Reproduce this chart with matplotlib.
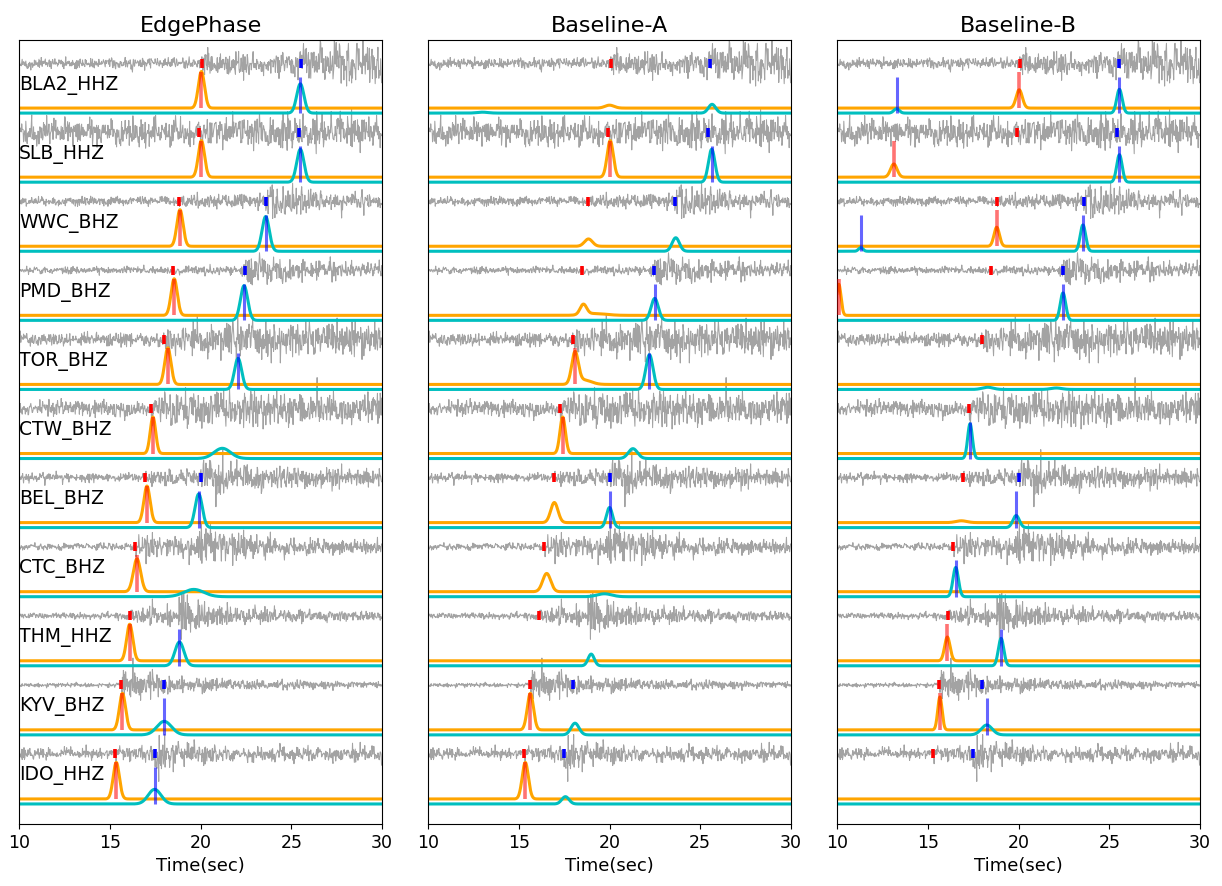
import numpy as np
import matplotlib
matplotlib.use("Agg")
import matplotlib.pyplot as plt

# ---------------- data ----------------
stations = ["BLA2_HHZ", "SLB_HHZ", "WWC_BHZ", "PMD_BHZ", "TOR_BHZ", "CTW_BHZ",
            "BEL_BHZ", "CTC_BHZ", "THM_HHZ", "KYV_BHZ", "IDO_HHZ"]
methods = ["EdgePhase", "Baseline-A", "Baseline-B"]
xticks = [10, 15, 20, 25, 30]

# manual (catalog) picks, seconds
manual_p = [20.06, 19.90, 18.84, 18.47, 18.01, 17.29, 16.93, 16.41, 16.10, 15.64, 15.30]
manual_s = [25.52, 25.43, 23.59, 22.45, None, None, 20.00, None, None, 18.00, 17.47]

# waveform envelope (half amplitude, pixels): pre-P noise, after-P, after-S peak, late floor
wave_noise = [5, 12, 4, 3, 6, 7, 4, 3, 3, 2, 5]
wave_p_amp = [11, 13, 6, 4, 14, 18, 7, 10, 8, 20, 7]
wave_s_time = [25.5, 25.4, 23.6, 22.5, 21.5, 20.5, 20.0, 19.9, 18.8, 15.7, 17.5]
wave_s_amp = [18, 14, 18, 20, 16, 15, 20, 22, 20, 20, 22]
wave_floor = [17, 13, 6, 7, 12, 12, 7, 5, 4, 3, 6]
wave_decay = [30, 30, 2.5, 1.5, 20, 10, 3.0, 3.0, 3.0, 3.0, 1.5]

# probability peaks per method / station: (time, height, width)
p_peaks = [
    [[(20.05, 1.0, 0.17)], [(20.05, 1.0, 0.17)], [(18.87, 1.0, 0.17)], [(18.55, 1.0, 0.17)],
     [(18.20, 1.0, 0.17)], [(17.38, 1.0, 0.15)], [(17.05, 1.0, 0.17)], [(16.50, 0.9, 0.20)],
     [(16.10, 1.0, 0.17)], [(15.70, 1.0, 0.17)], [(15.36, 1.0, 0.17)]],
    [[(20.00, 0.08, 0.25)], [(20.04, 1.0, 0.17)], [(18.84, 0.2, 0.22)],
     [(18.56, 0.28, 0.18), (19.2, 0.05, 0.6)], [(18.10, 0.85, 0.18), (18.6, 0.12, 0.4)],
     [(17.42, 1.0, 0.15)], [(16.96, 0.55, 0.2)], [(16.54, 0.5, 0.22)], [],
     [(15.64, 1.0, 0.17)], [(15.36, 1.0, 0.17)]],
    [[(20.04, 0.5, 0.17)], [(13.13, 0.36, 0.18)], [(18.80, 0.52, 0.15)], [(10.10, 0.85, 0.12)],
     [], [], [(16.85, 0.05, 0.3)], [], [(16.08, 0.65, 0.15)], [(15.67, 0.9, 0.12)], []],
]
s_peaks = [
    [[(25.50, 0.8, 0.2)], [(25.50, 0.9, 0.2)], [(23.59, 0.95, 0.2)], [(22.40, 0.95, 0.2)],
     [(22.07, 0.85, 0.2)], [(21.20, 0.28, 0.45)], [(19.90, 0.92, 0.2)], [(19.63, 0.2, 0.55)],
     [(18.84, 0.65, 0.25)], [(18.00, 0.37, 0.4)], [(17.47, 0.4, 0.35)]],
    [[(25.65, 0.24, 0.2), (13.0, 0.025, 0.3)], [(25.63, 0.9, 0.18)], [(23.65, 0.37, 0.2)],
     [(22.49, 0.6, 0.2)], [(22.20, 0.95, 0.2)], [(21.29, 0.27, 0.25)], [(20.00, 0.55, 0.17)],
     [(19.72, 0.08, 0.4)], [(18.99, 0.32, 0.17)], [(18.10, 0.32, 0.22)], [(17.57, 0.2, 0.2)]],
    [[(13.28, 0.12, 0.15), (25.56, 0.65, 0.15)], [(25.56, 0.75, 0.15)],
     [(11.31, 0.1, 0.12), (23.55, 0.72, 0.15)], [(22.45, 0.75, 0.15)],
     [(18.3, 0.06, 0.3), (22.08, 0.04, 0.3)], [(17.33, 0.95, 0.13)], [(19.87, 0.33, 0.18)],
     [(16.54, 0.8, 0.15)], [(19.04, 0.75, 0.15)], [(18.25, 0.27, 0.3)], []],
]
# predicted picks (vertical lines)
pred_p = [
    [20.05, 20.05, 18.87, 18.55, 18.20, 17.38, 17.05, 16.50, 16.10, 15.70, 15.36],
    [None, 20.04, None, None, 18.10, 17.42, None, None, None, 15.64, 15.36],
    [20.04, 13.13, 18.80, 10.10, None, None, None, None, 16.08, 15.67, None],
]
pred_s = [
    [[25.5], [25.5], [23.59], [22.4], [22.07], [], [19.9], [], [18.84], [18.0], [17.47]],
    [[], [25.63], [], [22.52], [22.2], [], [20.0], [], [], [], []],
    [[13.28, 25.56], [25.56], [11.31, 23.55], [22.45], [], [17.33], [19.87], [16.54],
     [19.04], [18.25], []],
]

# ---------------- layout / style ----------------
PX = 69.0                  # pixels per station band
WAVE_OFF = 45 / PX         # waveform centre above orange baseline
CYAN_OFF = -5 / PX
PSCALE = 36.5 / PX
MARK_H = 4.5 / PX

fig = plt.figure(figsize=(12.22, 8.86), dpi=100)
lefts = [19, 428, 837]
axw = 363
bottom_px, top_px = 824, 40
W, H = 1222, 886

t = np.arange(10.0, 30.0001, 0.01)
fs_wave = 40.0
tw = np.arange(10.0, 30.0, 1.0 / fs_wave)

# waveform texture (unreadable detail): seeded noise shaped by the envelopes read above
rng = np.random.default_rng(7)
textures = [rng.standard_normal(tw.size) for _ in stations]


def envelope(k):
    env = np.full(tw.shape, float(wave_noise[k]))
    pm = tw >= manual_p[k]
    env[pm] = wave_p_amp[k]
    sm = tw >= wave_s_time[k]
    dt = tw[sm] - wave_s_time[k]
    env[sm] = wave_floor[k] + (wave_s_amp[k] - wave_floor[k]) * np.exp(-dt / wave_decay[k])
    return env


def prob_curve(peaks):
    y = np.zeros_like(t)
    for (t0, h, w) in peaks:
        y += h * np.exp(-0.5 * ((t - t0) / w) ** 2)
    return y


for m, name in enumerate(methods):
    ax = fig.add_axes([lefts[m] / W, 1 - bottom_px / H, axw / W, (bottom_px - top_px) / H])
    for k, st in enumerate(stations):
        base = -k
        wave = textures[k] * envelope(k) / 1.8 / PX
        ax.plot(tw, base + WAVE_OFF + wave, color="#a3a3a3", lw=0.75, zorder=1)
        wc = base + WAVE_OFF
        ax.plot([manual_p[k]] * 2, [wc - MARK_H, wc + MARK_H], color="red", lw=2.6,
                solid_capstyle="butt", zorder=3)
        if manual_s[k] is not None:
            ax.plot([manual_s[k]] * 2, [wc - MARK_H, wc + MARK_H], color="blue", lw=2.6,
                    solid_capstyle="butt", zorder=3)
        ax.plot(t, base + PSCALE * prob_curve(p_peaks[m][k]), color="orange", lw=2.2, zorder=2)
        ax.plot(t, base + CYAN_OFF + PSCALE * prob_curve(s_peaks[m][k]), color="c", lw=2.2,
                zorder=2)
        if pred_p[m][k] is not None:
            ax.plot([pred_p[m][k]] * 2, [base, base + PSCALE], color="red", alpha=0.55,
                    lw=2.6, solid_capstyle="butt", zorder=4)
        for ts in pred_s[m][k]:
            ax.plot([ts] * 2, [base + CYAN_OFF, base + CYAN_OFF + PSCALE], color="blue",
                    alpha=0.6, lw=2.2, solid_capstyle="butt", zorder=4)
        if m == 0:
            ax.text(10.0, base + 23 / PX, st, fontsize=13.5, ha="left", va="center", zorder=5)
    ax.set_xlim(10, 30)
    ax.set_ylim(-10 - 25 / PX, 68 / PX)
    ax.set_yticks([])
    ax.set_xticks(xticks)
    ax.tick_params(axis="x", labelsize=12.5)
    ax.set_title(name, fontsize=16)
    ax.set_xlabel("Time(sec)", fontsize=13)

fig.savefig("out.png", dpi=100)
